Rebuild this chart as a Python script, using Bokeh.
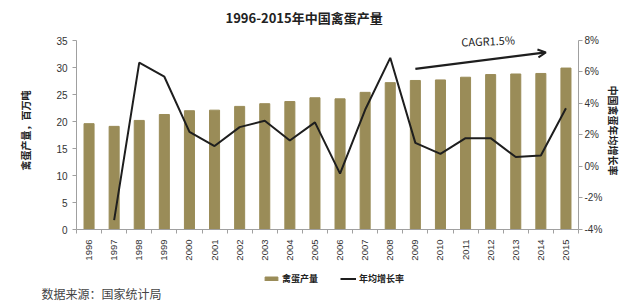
import math
from bokeh.plotting import figure
from bokeh.layouts import column
from bokeh.models import (Range1d, LinearAxis, FixedTicker, Legend, LegendItem,
                          Label, Arrow, OpenHead, PrintfTickFormatter)
from bokeh.embed import file_html
from bokeh.resources import INLINE

years = list(range(1996, 2016))
production = [19.6, 19.1, 20.2, 21.3, 22.0, 22.1, 22.8, 23.3, 23.7, 24.4,
              24.2, 25.4, 27.2, 27.6, 27.7, 28.2, 28.7, 28.8, 28.9, 29.9]
growth_years = list(range(1997, 2016))
growth = [-3.4, 6.6, 5.7, 2.2, 1.3, 2.5, 2.9, 1.65, 2.8, -0.45,
          3.6, 6.9, 1.5, 0.8, 1.8, 1.8, 0.6, 0.7, 3.7]
left_ticks = [0, 5, 10, 15, 20, 25, 30, 35]
right_ticks = [-4, -2, 0, 2, 4, 6, 8]

title_text = "1996-2015年中国禽蛋产量"
left_label = "禽蛋产量，百万吨"
right_label = "中国禽蛋年均增长率"
bar_name = "禽蛋产量"
line_name = "年均增长率"
source_text = "数据来源：国家统计局"
cagr_text = "CAGR1.5%"

BAR = "#9a8c58"
LINE = "#1e1e1e"
AX = "#a0a0a0"
TXT = "#333333"
CJK = "Noto Sans CJK SC"
LAT = "Liberation Sans"

# ---------------- main chart ----------------
p = figure(width=640, height=265, output_backend="svg", toolbar_location=None,
           x_range=Range1d(1995.5, 2015.5), y_range=Range1d(0, 36.67),
           min_border_left=76, min_border_right=62, min_border_top=31,
           min_border_bottom=36, outline_line_color=None,
           x_axis_location=None, y_axis_location=None)
p.xgrid.visible = False
p.ygrid.visible = False
p.extra_y_ranges = {"right": Range1d(-4, 8.571)}

bars = p.vbar(x=years, top=production, width=0.4, color=BAR)
line = p.line(x=growth_years, y=growth, y_range_name="right",
              line_color=LINE, line_width=2)


def style(ax):
    ax.axis_line_color = AX
    ax.major_tick_line_color = AX
    ax.minor_tick_line_color = AX
    ax.major_tick_in = 0
    ax.major_tick_out = 4
    ax.minor_tick_in = 0
    ax.minor_tick_out = 0
    ax.major_label_text_font = LAT
    ax.major_label_text_font_size = "10px"
    ax.major_label_text_color = TXT
    ax.axis_label_text_font = CJK
    ax.axis_label_text_font_style = "bold"
    ax.axis_label_text_font_size = "10px"
    ax.axis_label_text_color = "#222222"


xax = LinearAxis(ticker=FixedTicker(ticks=years,
                                    minor_ticks=[1995.5 + i for i in range(21)]))
style(xax)
xax.major_tick_out = 0
xax.minor_tick_out = 4
xax.major_label_orientation = math.pi / 2
xax.major_label_standoff = 6
xax.major_label_text_font_size = "9.5px"
p.add_layout(xax, "below")

lax = LinearAxis(ticker=FixedTicker(ticks=left_ticks), axis_label=left_label,
                 bounds=(0, 35))
style(lax)
lax.axis_label_standoff = 20
p.add_layout(lax, "left")

rax = LinearAxis(y_range_name="right", ticker=FixedTicker(ticks=right_ticks),
                 formatter=PrintfTickFormatter(format="%d%%"),
                 axis_label=right_label, bounds=(-4, 8))
style(rax)
rax.major_label_standoff = 2
rax.axis_label_standoff = 1
p.add_layout(rax, "right")

p.title.text = title_text
p.title.align = "left"
p.title.offset = 149
p.title.text_font = CJK
p.title.text_font_size = "13px"
p.title.text_font_style = "bold"
p.title.text_color = "#222222"
p.title.standoff = 9

p.add_layout(Arrow(end=OpenHead(size=8, line_width=2, line_color=LINE),
                   x_start=2009.0, y_start=6.2, x_end=2014.2, y_end=7.24,
                   y_range_name="right", line_width=2.2, line_color=LINE))
p.add_layout(Label(x=2011.9, y=8.0, y_range_name="right", text=cagr_text,
                   text_align="center", text_baseline="middle", angle=0.04,
                   text_font=CJK, text_font_size="11px", text_color="#222222"))

# ---------------- footer: legend + source ----------------
f = figure(width=640, height=42, output_backend="svg", toolbar_location=None,
           x_range=Range1d(0, 640), y_range=Range1d(0, 42),
           min_border_left=0, min_border_right=0, min_border_top=0,
           min_border_bottom=0, outline_line_color=None,
           x_axis_location=None, y_axis_location=None)
if "frame_align" in f.properties():
    f.frame_align = False
f.xgrid.visible = False
f.ygrid.visible = False
# hidden stand-ins that carry the legend styling of the bars and the line
key_bar = f.vbar(x=years, top=production, width=0.4, color=BAR, visible=False)
key_line = f.line(x=growth_years, y=growth, line_color=LINE, line_width=2,
                  visible=False)

legend = Legend(items=[LegendItem(label=bar_name, renderers=[key_bar]),
                       LegendItem(label=line_name, renderers=[key_line])],
                orientation="horizontal", location=(263, 22),
                padding=0, margin=0, spacing=22, label_standoff=3,
                glyph_width=16, glyph_height=5,
                inactive_fill_alpha=0,
                border_line_color=None, background_fill_alpha=0,
                label_text_font=CJK, label_text_font_style="bold",
                label_text_font_size="9px", label_text_color="#222222")
f.add_layout(legend, "center")

f.add_layout(Label(x=41, y=14, text=source_text, text_baseline="middle",
                   text_font=CJK, text_font_size="12px", text_color="#444444"))

open("out.html", "w").write(file_html(column(p, f, spacing=0), INLINE))
